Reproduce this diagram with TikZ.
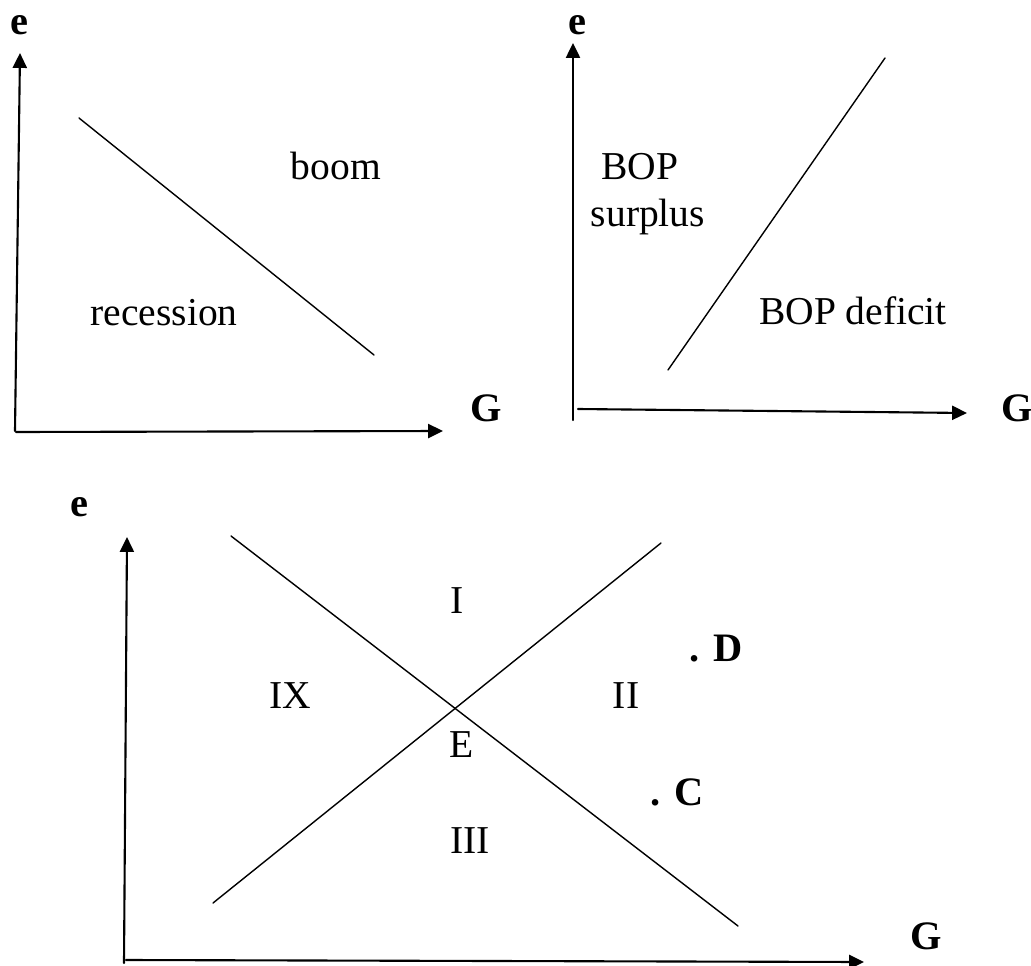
\documentclass[tikz,border=0pt]{standalone}
\usepackage{fontspec}
\setmainfont{Liberation Serif}
\usetikzlibrary{arrows.meta}
\begin{document}
\begin{tikzpicture}[x=0.02cm,y=-0.02cm,line cap=round,>={Triangle[length=8.5pt,width=8pt]},
  axis/.style={line width=1.2pt,->},
  curve/.style={line width=0.8pt},
  lbl/.style={font=\fontsize{22.5}{27}\selectfont,anchor=base},
  blbl/.style={font=\fontsize{23}{27}\selectfont\bfseries,anchor=base}]
  \useasboundingbox (0,0) rectangle (1031,966);

  % recession / boom
  \coordinate (o1) at (15,431);
  \coordinate (y1) at (20,53);
  \coordinate (x1) at (443,431);
  \coordinate (ad1) at (79,118);
  \coordinate (ad2) at (374,355);
  \draw[axis] (o1) -- (y1);
  \draw[axis] (16,432) -- (x1);
  \draw[curve] (ad1) -- (ad2);
  \node[blbl] (e1) at (19,35) {e};
  \node[blbl] (g1) at (486,421) {G};
  \node[lbl] (boom) at (336,180) {boom};
  \node[lbl] (rec) at (164,325) {recession};

  % BOP surplus / deficit
  \coordinate (o2) at (573,420);
  \coordinate (y2) at (573,43);
  \coordinate (x2) at (967,413);
  \coordinate (bp1) at (668,370);
  \coordinate (bp2) at (885,58);
  \draw[axis] (o2) -- (y2);
  \draw[axis] (578,409) -- (x2);
  \draw[curve] (bp1) -- (bp2);
  \node[blbl] (e2) at (577,35) {e};
  \node[blbl] (g2) at (1017,421) {G};
  \node[lbl] (bop) at (640,180) {BOP};
  \node[lbl] (surp) at (648,227) {surplus};
  \node[lbl] (def) at (853,324) {BOP deficit};

  % both together
  \coordinate (o3) at (124,963);
  \coordinate (y3) at (127,537);
  \coordinate (x3) at (864,962);
  \coordinate (ad3) at (231,536);
  \coordinate (ad4) at (738,926);
  \coordinate (bp3) at (213,903);
  \coordinate (bp4) at (661,543);
  \draw[axis] (o3) -- (y3);
  \draw[axis] (126,960) -- (x3);
  \draw[curve] (ad3) -- (ad4);
  \draw[curve] (bp3) -- (bp4);
  \node[blbl] (e3) at (79,516) {e};
  \node[blbl] (g3) at (926,949) {G};
  \node[lbl] (r1) at (457,613) {I};
  \node[lbl] (r2) at (626,708) {II};
  \node[lbl] (r3) at (470,853) {III};
  \node[lbl] (r9) at (290,708) {IX};
  \node[lbl] (eq) at (462,757) {E};
  \node[blbl] (ptd) at (716,661) {. D};
  \node[blbl] (ptc) at (677,805) {. C};
\end{tikzpicture}
\end{document}
